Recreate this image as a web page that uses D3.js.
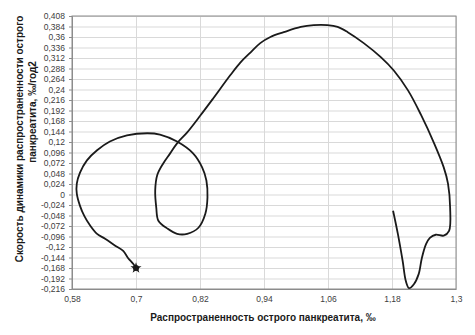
<!DOCTYPE html>
<html>
<head>
<meta charset="utf-8">
<script src="https://cdn.jsdelivr.net/npm/d3@7"></script>
<style>
  body { margin: 0; background: #fff; }
  svg { display: block; font-family: "Liberation Sans", Arial, sans-serif; }
</style>
</head>
<body>
<div id="chart-area"><svg></svg></div>
<script>
// Chart size
const width = 475;
const height = 335;
const svg = d3.select("#chart-area").select("svg")
    .attr("width", width).attr("height", height);

// Margin Convention
const margin = { top: 16, right: 19, bottom: 46, left: 72 };
const innerWidth = width - margin.left - margin.right;
const innerHeight = height - margin.top - margin.bottom;
const g = svg.append("g")
    .attr("transform", `translate(${margin.left},${margin.top})`);

// Data: prevalence (x) vs rate of change (y)
const prevalence = [
    0.700, 0.695, 0.685, 0.676, 0.661, 0.642, 0.627, 0.614, 0.603, 0.595,
    0.589, 0.589, 0.595, 0.608, 0.627, 0.651, 0.683, 0.721, 0.745, 0.777,
    0.807, 0.824, 0.832, 0.834, 0.830, 0.817, 0.796, 0.777, 0.759, 0.742,
    0.738, 0.736, 0.740, 0.751, 0.764, 0.777, 0.796, 0.821, 0.845, 0.877,
    0.896, 0.915, 0.933, 0.952, 0.977, 1.009, 1.033, 1.059, 1.078, 1.097,
    1.127, 1.159, 1.183, 1.210, 1.234, 1.259, 1.277, 1.285, 1.289, 1.287,
    1.277, 1.262, 1.251, 1.244, 1.236, 1.230, 1.221, 1.212, 1.206, 1.200,
    1.191, 1.182
];
const speed = [
    -0.168, -0.159, -0.145, -0.129, -0.117, -0.101, -0.090, -0.071, -0.049, -0.026,
    0.002, 0.025, 0.050, 0.078, 0.101, 0.121, 0.135, 0.140, 0.137, 0.121,
    0.094, 0.062, 0.032, -0.007, -0.044, -0.076, -0.090, -0.090, -0.078, -0.060,
    -0.030, 0.009, 0.045, 0.071, 0.094, 0.117, 0.142, 0.181, 0.220, 0.273,
    0.302, 0.325, 0.346, 0.360, 0.371, 0.383, 0.387, 0.387, 0.383, 0.371,
    0.346, 0.314, 0.284, 0.238, 0.183, 0.117, 0.062, 0.025, -0.030, -0.083,
    -0.094, -0.092, -0.099, -0.113, -0.145, -0.182, -0.205, -0.214, -0.198, -0.152,
    -0.090, -0.037
];
const xTicks = [0.58, 0.7, 0.82, 0.94, 1.06, 1.18, 1.3];
const yTicks = d3.range(27).map(i => +(-0.216 + i * 0.024).toFixed(3));

const xTitle = "Распространенность острого панкреатита, ‰";
const yTitle = ["Скорость динамики распространенности острого", "панкреатита, ‰/год2"];

const points = prevalence.map((v, i) => ({ x: v, y: speed[i] }));

// Scales
const x = d3.scaleLinear().domain([0.58, 1.3]).range([0, innerWidth]);
const y = d3.scaleLinear().domain([-0.216, 0.408]).range([innerHeight, 0]);

const fmt = d => String(+d.toFixed(3)).replace(".", ",");

// Gridlines
g.append("g")
    .attr("class", "grid")
    .call(d3.axisLeft(y).tickValues(yTicks).tickSize(-innerWidth).tickFormat(""))
    .call(a => a.select(".domain").remove())
    .call(a => a.selectAll("line").attr("stroke", "#d9d9d9"));
g.append("g")
    .attr("class", "grid")
    .attr("transform", `translate(0,${innerHeight})`)
    .call(d3.axisBottom(x).tickValues(xTicks).tickSize(-innerHeight).tickFormat(""))
    .call(a => a.select(".domain").remove())
    .call(a => a.selectAll("line").attr("stroke", "#d9d9d9"));

// Plot border
g.append("rect")
    .attr("width", innerWidth).attr("height", innerHeight)
    .attr("fill", "none").attr("stroke", "#8c8c8c").attr("stroke-width", 1);

// Axes
g.append("g")
    .call(d3.axisLeft(y).tickValues(yTicks).tickSize(3).tickFormat(fmt))
    .call(a => a.select(".domain").attr("stroke", "#8c8c8c"))
    .call(a => a.selectAll("line").attr("stroke", "#8c8c8c"))
    .call(a => a.selectAll("text").attr("fill", "#404040").attr("font-size", 8.5).attr("dx", -1));
g.append("g")
    .attr("transform", `translate(0,${innerHeight})`)
    .call(d3.axisBottom(x).tickValues(xTicks).tickSize(0).tickFormat(fmt))
    .call(a => a.select(".domain").attr("stroke", "#8c8c8c"))
    .call(a => a.selectAll("text").attr("fill", "#404040").attr("font-size", 8.5).attr("dy", "1.2em"));

// Trajectory line
const line = d3.line()
    .x(d => x(d.x))
    .y(d => y(d.y))
    .curve(d3.curveCatmullRom.alpha(0.5));
g.append("path")
    .datum(points)
    .attr("d", line)
    .attr("fill", "none")
    .attr("stroke", "#1a1a1a")
    .attr("stroke-width", 1.8);

// Start marker
g.append("path")
    .attr("d", d3.symbol().type(d3.symbolStar).size(38))
    .attr("transform", `translate(${x(points[0].x)},${y(points[0].y)})`)
    .attr("fill", "#1a1a1a");
g.append("circle")
    .attr("cx", x(points[0].x)).attr("cy", y(points[0].y))
    .attr("r", 3).attr("fill", "#1a1a1a");

// Axis titles
svg.append("text")
    .attr("x", 263).attr("y", 321)
    .attr("text-anchor", "middle")
    .attr("font-size", 10).attr("font-weight", "bold").attr("fill", "#1a1a1a")
    .text(xTitle);

svg.append("text")
    .attr("transform", "translate(23,139) rotate(-90)")
    .attr("text-anchor", "middle")
    .attr("font-size", 10).attr("font-weight", "bold").attr("fill", "#1a1a1a")
    .text(yTitle[0]);
svg.append("text")
    .attr("transform", "translate(36,112) rotate(-90)")
    .attr("text-anchor", "middle")
    .attr("font-size", 10).attr("font-weight", "bold").attr("fill", "#1a1a1a")
    .text(yTitle[1]);
</script>
</body>
</html>
